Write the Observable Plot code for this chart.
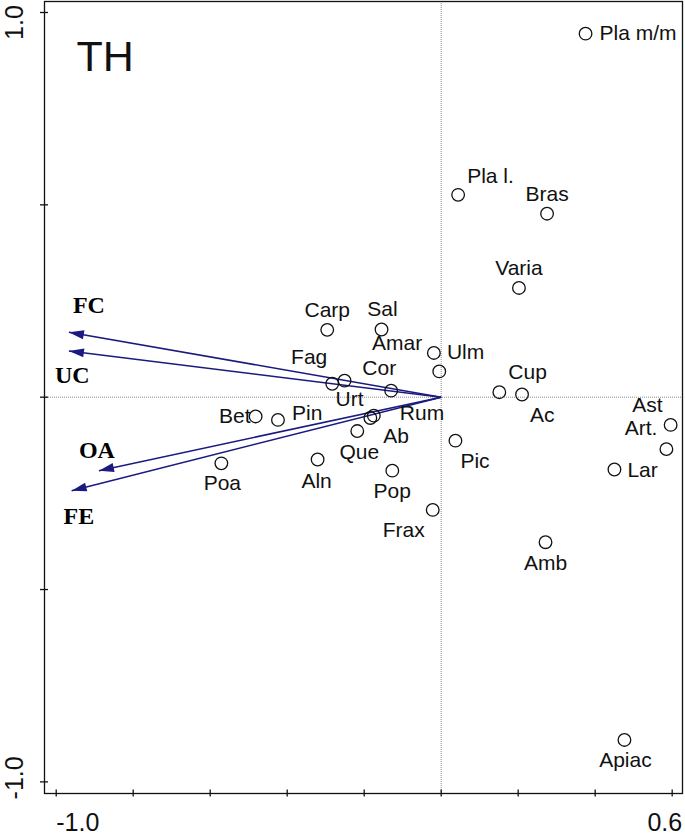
<!DOCTYPE html>
<html><head><meta charset="utf-8">
<script src="https://cdn.jsdelivr.net/npm/d3@7"></script>
<script src="https://cdn.jsdelivr.net/npm/@observablehq/plot@0.6"></script>
<style>body{margin:0;background:#fff}</style>
</head><body><div id="chart"></div>
<script>
// ---- data ----
const species = ["Pla m/m","Pla l.","Bras","Varia","Carp","Sal","Ulm","Amar","Fag","Urt","Cor","Cup","Ac","Ast","Art.","Lar","Bet","Pin","Rum","Ab","Que","Pic","Poa","Aln","Pop","Frax","Amb","Apiac"];
const axis1 = [0.375,0.044,0.275,0.202,-0.296,-0.155,-0.019,-0.005,-0.283,-0.251,-0.130,0.151,0.210,0.596,0.585,0.450,-0.482,-0.424,-0.175,-0.184,-0.218,0.037,-0.571,-0.321,-0.127,-0.022,0.271,0.476];
const axis2 = [0.945,0.526,0.477,0.284,0.175,0.176,0.115,0.067,0.035,0.043,0.017,0.013,0.007,-0.072,-0.135,-0.188,-0.050,-0.059,-0.048,-0.054,-0.088,-0.113,-0.172,-0.162,-0.191,-0.293,-0.377,-0.891];
const envVars = ["FC","UC","OA","FE"];
const envAxis1 = [-0.967,-0.967,-0.889,-0.960];
const envAxis2 = [0.169,0.120,-0.191,-0.243];
const xTicks = [-1.0,-0.8,-0.6,-0.4,-0.2,0,0.2,0.4,0.6];
const yTicks = [1.0,0.5,0,-0.5,-1.0];
const xTickLabels = [-1.0, 0.6];
const yTickLabels = [1.0, -1.0];
const title = "TH";

// ---- layout (label placement: anchor, dx, dy in px) ----
const labelPlacement = [
  ["start",14,6],["start",9,-12],["middle",0,-13],["middle",0,-13],["middle",0,-13],["middle",1,-13],
  ["start",13,6],["end",-17,-21],["end",-5,-20],["middle",5,25],["end",5,-16],["start",9,-13],
  ["start",8,28],["end",-8,-13],["end",-9,-14],["start",13,7],["end",-5,7],["start",14,0],
  ["start",26,4],["start",13,25],["middle",2,28],["start",5,27],["middle",1,27],["middle",-1,28],
  ["middle",0,27],["end",-8,27],["middle",0,28],["middle",1,27]
];
const envPlacement = [[4,-19],[-14,32],[-20,-13],[-8,33]];

const W = 685, H = 836, mL = 44, mR = 3, mT = 1, mB = 43;
const PW = W - mL - mR, PH = H - mT - mB;
const sans = "'Liberation Sans', Arial, sans-serif";
const serif = "'Liberation Serif', 'Times New Roman', serif";
const arrowColor = "#1a1a80";
const ink = "#111";

const points = species.map((name, i) => ({name, x: axis1[i], y: axis2[i]}));
const env = envVars.map((name, i) => ({name, x: envAxis1[i], y: envAxis2[i]}));

const marks = [
  Plot.ruleX([0], {stroke: "#8c8c8c", strokeDasharray: "1,1", strokeWidth: 1}),
  Plot.ruleY([0], {stroke: "#8c8c8c", strokeDasharray: "1,1", strokeWidth: 1}),
  Plot.frame({stroke: ink, strokeWidth: 1.3}),
  Plot.tickX(xTicks, {x: d => d, stroke: ink, strokeWidth: 1.3, insetTop: PH - 3.5, insetBottom: -3.5}),
  Plot.tickY(yTicks, {y: d => d, stroke: ink, strokeWidth: 1.3, insetRight: PW - 4, insetLeft: -4}),
  Plot.link(env, {x1: 0, y1: 0, x2: "x", y2: "y", stroke: arrowColor, strokeWidth: 1.6, markerEnd: "arrow"}),
  Plot.dot(points, {x: "x", y: "y", r: 6.3, stroke: ink, strokeWidth: 1.3, fill: "none"}),
  Plot.text([title], {text: d => d, frameAnchor: "top-left", textAnchor: "start", lineAnchor: "bottom", dx: 32, dy: 69, fontSize: 43, fontFamily: sans, fill: ink}),
  Plot.text(xTickLabels.slice(0, 1), {x: d => d, text: d => d.toFixed(1), frameAnchor: "bottom", textAnchor: "start", lineAnchor: "bottom", dy: 37, fontSize: 25, fontFamily: sans, fill: ink}),
  Plot.text(xTickLabels.slice(1), {x: d => d, text: d => d.toFixed(1), frameAnchor: "bottom", textAnchor: "end", lineAnchor: "bottom", dx: 10, dy: 37, fontSize: 25, fontFamily: sans, fill: ink}),
  Plot.text(yTickLabels.slice(0, 1), {y: d => d, text: d => d.toFixed(1), frameAnchor: "left", rotate: -90, textAnchor: "middle", lineAnchor: "bottom", dx: -22, dy: 10, fontSize: 25, fontFamily: sans, fill: ink}),
  Plot.text(yTickLabels.slice(1), {y: d => d, text: d => d.toFixed(1), frameAnchor: "left", rotate: -90, textAnchor: "middle", lineAnchor: "bottom", dx: -22, dy: -4, fontSize: 25, fontFamily: sans, fill: ink})
];

points.forEach((p, i) => {
  const [anchor, dx, dy] = labelPlacement[i];
  marks.push(Plot.text([p], {x: "x", y: "y", text: "name", textAnchor: anchor, lineAnchor: "bottom", dx, dy, fontSize: 21, fontFamily: sans, fill: ink}));
});
env.forEach((e, i) => {
  const [dx, dy] = envPlacement[i];
  marks.push(Plot.text([e], {x: "x", y: "y", text: "name", textAnchor: "start", lineAnchor: "bottom", dx, dy, fontSize: 24, fontWeight: "bold", fontFamily: serif, fill: "#000"}));
});

const chart = Plot.plot({
  width: W, height: H,
  marginLeft: mL, marginRight: mR, marginTop: mT, marginBottom: mB,
  x: {domain: [-1.0304, 0.6268], axis: null},
  y: {domain: [-1.0302, 1.0286], axis: null},
  style: {background: "#fff", overflow: "visible"},
  marks
});

// filled triangular arrowheads
const NS = "http://www.w3.org/2000/svg";
chart.querySelectorAll("marker").forEach(m => {
  m.setAttribute("viewBox", "-16 -6 17 12");
  m.setAttribute("markerWidth", 17);
  m.setAttribute("markerHeight", 12);
  m.setAttribute("markerUnits", "userSpaceOnUse");
  m.setAttribute("fill", arrowColor);
  m.setAttribute("stroke", "none");
  while (m.firstChild) m.removeChild(m.firstChild);
  const p = document.createElementNS(NS, "path");
  p.setAttribute("d", "M-15,-4.5L0,0L-15,4.5Z");
  m.appendChild(p);
});

document.getElementById("chart").appendChild(chart);
</script>
</body></html>
